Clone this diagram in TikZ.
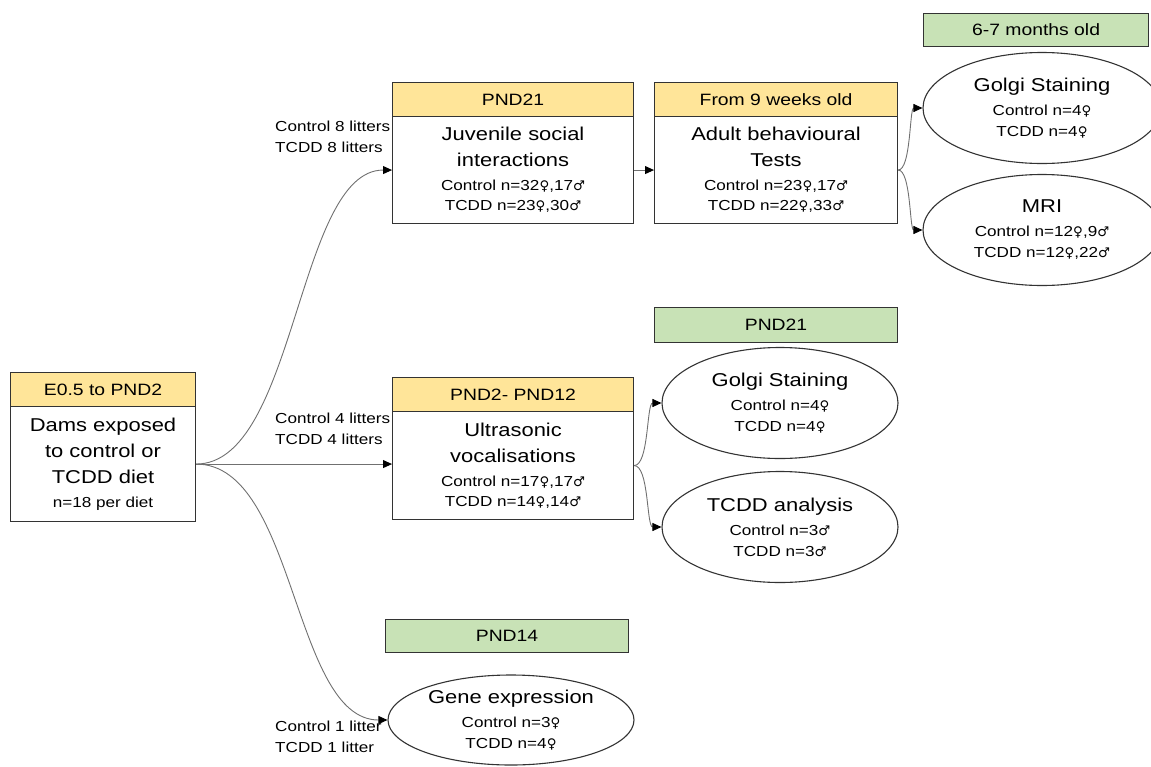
\documentclass[tikz,border=0pt]{standalone}
\usepackage{fontspec}
\setmainfont{Liberation Sans}[FakeStretch=1.18]
\newfontfamily\symfnt{DejaVu Sans}[Scale=0.92]
\usetikzlibrary{arrows.meta,shapes.geometric}
\definecolor{hdryellow}{HTML}{FFE599}
\definecolor{hdrgreen}{HTML}{C8E2B6}
\definecolor{edgegray}{HTML}{333333}
\definecolor{linkgray}{HTML}{707070}
\newcommand{\fntbig}{\fontsize{18.6}{26}\selectfont}
\newcommand{\fnthdr}{\fontsize{16.4}{20}\selectfont}
\newcommand{\fntsmall}{\fontsize{14.5}{21}\selectfont}
\newcommand{\fem}{{\symfnt ♀}}
\newcommand{\mal}{{\symfnt ♂}}
\begin{document}
\begin{tikzpicture}[x=1pt,y=-1pt,
  hdr/.style={draw=edgegray, line width=1.1pt, fill=hdryellow, anchor=north west, inner sep=0pt, font=\fnthdr},
  ghdr/.style={hdr, fill=hdrgreen},
  bodybox/.style={draw=edgegray, line width=1.1pt, fill=white, anchor=north west, inner sep=0pt, align=center, font=\fntbig},
  oval/.style={ellipse, draw=edgegray, line width=1.1pt, fill=white, inner sep=0pt, align=center, font=\fntbig},
  lbl/.style={anchor=west, inner sep=0pt, align=left, font=\fntsmall},
  link/.style={draw=linkgray, line width=0.9pt, -{Triangle[length=9pt,width=8pt,black]}}
]
\useasboundingbox (0,0) rectangle (1151,766);

% left box
\node[hdr, minimum width=185pt, minimum height=34pt] (h0) at (10,372) {E0.5 to PND2};
\node[bodybox, minimum width=185pt, minimum height=115pt] (dams) at (10,406)
  {Dams exposed\\to control or\\TCDD diet\\[-2pt]{\fntsmall n=18 per diet}};

% juvenile
\node[hdr, minimum width=241pt, minimum height=34pt] (h1) at (392,82) {PND21};
\node[bodybox, minimum width=241pt, minimum height=107pt] (juv) at (392,116)
  {Juvenile social\\interactions\\[-2pt]{\fntsmall Control n=32\fem,17\mal}\\[-6pt]{\fntsmall TCDD n=23\fem,30\mal}};

% adult
\node[hdr, minimum width=243pt, minimum height=34pt] (h2) at (654,82) {From 9 weeks old};
\node[bodybox, minimum width=243pt, minimum height=107pt] (adult) at (654,116)
  {Adult behavioural\\Tests\\[-2pt]{\fntsmall Control n=23\fem,17\mal}\\[-6pt]{\fntsmall TCDD n=22\fem,33\mal}};

% ultrasonic
\node[hdr, minimum width=241pt, minimum height=34pt] (h3) at (392,377) {PND2- PND12};
\node[bodybox, minimum width=241pt, minimum height=108pt] (usv) at (392,411)
  {Ultrasonic\\vocalisations\\[-2pt]{\fntsmall Control n=17\fem,17\mal}\\[-6pt]{\fntsmall TCDD n=14\fem,14\mal}};

% green headers
\node[ghdr, minimum width=225pt, minimum height=33pt] (g1) at (923,13) {6-7 months old};
\node[ghdr, minimum width=243pt, minimum height=35pt] (g2) at (654,307) {PND21};
\node[ghdr, minimum width=243pt, minimum height=33pt] (g3) at (385,619) {PND14};

% ellipses
\node[oval, minimum width=238pt, minimum height=111pt] (golgiA) at (1042,108)
  {Golgi Staining\\[-2pt]{\fntsmall Control n=4\fem}\\[-5pt]{\fntsmall TCDD n=4\fem}};
\node[oval, minimum width=238pt, minimum height=111pt] (mri) at (1042,230)
  {MRI\\[-2pt]{\fntsmall Control n=12\fem,9\mal}\\[-5pt]{\fntsmall TCDD n=12\fem,22\mal}};
\node[oval, minimum width=236pt, minimum height=111pt] (golgiB) at (780,403)
  {Golgi Staining\\[-2pt]{\fntsmall Control n=4\fem}\\[-5pt]{\fntsmall TCDD n=4\fem}};
\node[oval, minimum width=236pt, minimum height=111pt] (tcdd) at (780,527)
  {TCDD analysis\\[-2pt]{\fntsmall Control n=3\mal}\\[-5pt]{\fntsmall TCDD n=3\mal}};
\node[oval, minimum width=246pt, minimum height=90pt] (gene) at (511,720)
  {Gene expression\\[-2pt]{\fntsmall Control n=3\fem}\\[-5pt]{\fntsmall TCDD n=4\fem}};

% litter labels
\node[lbl] (l8) at (275,136.5) {Control 8 litters\\TCDD 8 litters};
\node[lbl] (l4) at (275,428.5) {Control 4 litters\\TCDD 4 litters};
\node[lbl] (l1) at (275,736.5) {Control 1 litter\\TCDD 1 litter};

% connectors
\draw[link] (dams.east) .. controls +(100,0) and +(-95,0) .. (juv.west);
\draw[link] (dams.east) -- (dams.east -| usv.west);
\draw[link] (dams.east) .. controls +(100,0) and +(-95,0) .. (gene.west);
\draw[link] (juv.east) -- (adult.west);
\draw[link] (adult.east) .. controls +(13,0) and +(-13,0) .. (golgiA.west);
\draw[link] (adult.east) .. controls +(13,0) and +(-13,0) .. (mri.west);
\draw[link] (usv.east) .. controls +(15,0) and +(-15,0) .. (golgiB.west);
\draw[link] (usv.east) .. controls +(15,0) and +(-15,0) .. (tcdd.west);
\end{tikzpicture}
\end{document}
